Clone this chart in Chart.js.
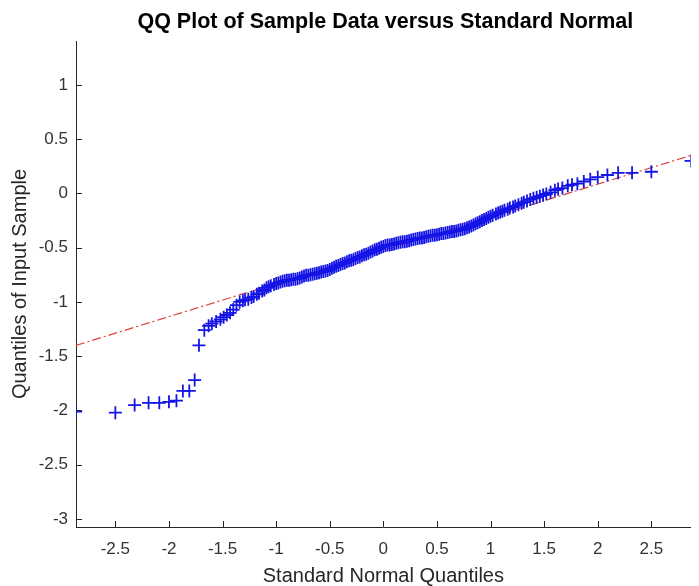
<!DOCTYPE html>
<html><head><meta charset="utf-8">
<script src="https://cdn.jsdelivr.net/npm/chart.js@4.4.1/dist/chart.umd.min.js"></script>
<style>html,body{margin:0;padding:0;background:#fff}#wrap{width:699px;height:586px;position:relative}</style>
</head><body><div id="wrap"><canvas id="c"></canvas></div>
<script>
// Theoretical standard-normal quantiles (x) and sorted sample values (y)
const sampleX = [
-2.87,-2.50,-2.32,-2.19,-2.09,-2.00,-1.93,-1.87,-1.81,-1.76,
-1.72,-1.67,-1.63,-1.60,-1.56,-1.52,-1.49,-1.46,-1.43,-1.40,
-1.37,-1.34,-1.31,-1.29,-1.26,-1.23,-1.21,-1.18,-1.16,-1.13,
-1.11,-1.09,-1.07,-1.05,-1.02,-1.00,
-0.98,-0.96,-0.94,-0.92,-0.90,-0.88,-0.86,-0.84,-0.82,-0.80,
-0.78,-0.76,-0.74,-0.72,-0.70,-0.68,-0.66,-0.64,-0.62,-0.60,
-0.58,-0.56,-0.54,-0.52,-0.50,-0.48,-0.46,-0.44,-0.42,-0.40,
-0.38,-0.36,-0.34,-0.32,-0.30,-0.28,-0.26,-0.24,-0.22,-0.20,
-0.18,-0.16,-0.14,-0.12,-0.10,-0.08,-0.06,-0.04,-0.02,0.00,
0.02,0.04,0.06,0.08,0.10,0.12,0.14,0.16,0.18,0.20,
0.22,0.24,0.26,0.28,0.30,0.32,0.34,0.36,0.38,0.40,
0.42,0.44,0.46,0.48,0.50,0.52,0.54,0.56,0.58,0.60,
0.62,0.64,0.66,0.68,0.70,0.72,0.74,0.76,0.78,0.80,
0.82,0.84,0.86,0.88,0.90,0.92,0.94,0.96,0.98,
1.00,1.02,1.05,1.07,1.09,1.11,1.13,1.16,1.18,1.21,
1.23,1.26,1.29,1.31,1.34,1.37,1.40,1.43,1.46,1.49,
1.52,1.56,1.60,1.63,1.67,1.72,1.76,1.81,1.87,1.93,
2.00,2.09,2.19,2.32,2.50,2.87];
const sampleY = [
-2.01,-2.02,-1.95,-1.93,-1.93,-1.92,-1.91,-1.82,-1.82,-1.72,
-1.40,-1.26,-1.22,-1.20,-1.18,-1.16,-1.14,-1.12,-1.10,-1.07,
-1.03,-1.00,-0.99,-0.98,-0.975,-0.96,-0.95,-0.93,-0.92,-0.90,
-0.89,-0.87,-0.86,-0.85,-0.84,-0.83,
-0.825,-0.815,-0.81,-0.805,-0.80,-0.80,-0.795,-0.79,-0.79,-0.785,
-0.78,-0.77,-0.76,-0.755,-0.755,-0.75,-0.745,-0.74,-0.735,-0.73,
-0.725,-0.72,-0.715,-0.71,-0.70,-0.69,-0.68,-0.67,-0.665,-0.655,
-0.645,-0.64,-0.63,-0.62,-0.615,-0.61,-0.60,-0.59,-0.585,-0.575,
-0.565,-0.56,-0.55,-0.54,-0.53,-0.52,-0.515,-0.505,-0.495,-0.49,
-0.48,-0.475,-0.475,-0.47,-0.465,-0.46,-0.455,-0.45,-0.445,-0.445,
-0.44,-0.435,-0.43,-0.425,-0.42,-0.415,-0.41,-0.41,-0.405,-0.40,
-0.395,-0.39,-0.385,-0.385,-0.38,-0.375,-0.37,-0.37,-0.365,-0.36,
-0.355,-0.35,-0.35,-0.345,-0.34,-0.335,-0.33,-0.325,-0.315,-0.31,
-0.30,-0.29,-0.28,-0.27,-0.26,-0.25,-0.24,-0.23,-0.22,
-0.21,-0.20,-0.19,-0.18,-0.17,-0.165,-0.155,-0.145,-0.135,-0.125,
-0.115,-0.105,-0.09,-0.08,-0.07,-0.055,-0.045,-0.035,-0.025,-0.015,
-0.005,0.01,0.03,0.04,0.05,0.07,0.08,0.09,0.11,0.13,
0.15,0.17,0.19,0.19,0.20,0.30];
// Reference (fit) line end points
const fitX = [-2.867, 2.867];
const fitY = [-1.40, 0.35];
// Axes
const xTicks = [-2.5,-2,-1.5,-1,-0.5,0,0.5,1,1.5,2,2.5];
const yTicks = [-3,-2.5,-2,-1.5,-1,-0.5,0,0.5,1];
const xRange = [-2.867, 2.867];
const yRange = [-3.074, 1.405];
const titleText = 'QQ Plot of Sample Data versus Standard Normal';
const xLabel = 'Standard Normal Quantiles';
const yLabel = 'Quantiles of Input Sample';

const FONT = "'Liberation Sans', Arial, sans-serif";
const AXIS = '#262626';

const inwardTicks = {
  id: 'inwardTicks',
  afterDatasetsDraw(chart) {
    const {ctx, chartArea: {left, bottom}, scales: {x, y}} = chart;
    ctx.save();
    ctx.strokeStyle = AXIS; ctx.lineWidth = 1;
    ctx.beginPath();
    x.ticks.forEach(t => { const px = Math.round(x.getPixelForValue(t.value)) + 0.5; ctx.moveTo(px, bottom); ctx.lineTo(px, bottom - 6); });
    y.ticks.forEach(t => { const py = Math.round(y.getPixelForValue(t.value)) + 0.5; ctx.moveTo(left, py); ctx.lineTo(left + 6, py); });
    ctx.stroke();
    ctx.restore();
  }
};
const axesTitle = {
  id: 'axesTitle',
  afterDraw(chart) {
    const {ctx, chartArea: {left, right}} = chart;
    ctx.save();
    ctx.font = "bold 21.5px " + FONT;
    ctx.fillStyle = '#000';
    ctx.textAlign = 'center'; ctx.textBaseline = 'middle';
    ctx.fillText(titleText, (left + right) / 2 + 2, 22);
    ctx.restore();
  }
};

new Chart(document.getElementById('c'), {
  type: 'scatter',
  data: {
    datasets: [
      {
        label: 'sample',
        data: sampleX.map((v, i) => ({x: v, y: sampleY[i]})),
        pointStyle: 'cross', pointRadius: 6.5, pointHoverRadius: 6.5,
        borderColor: '#1414e6', backgroundColor: '#1414e6', pointBorderWidth: 1.8,
        showLine: false, order: 0
      },
      {
        type: 'line', label: 'fit',
        data: fitX.map((v, i) => ({x: v, y: fitY[i]})),
        borderColor: '#e0403a', borderWidth: 1.2, borderDash: [9, 3, 2, 3],
        pointRadius: 0, fill: false, order: 1
      }
    ]
  },
  options: {
    responsive: true, maintainAspectRatio: false, animation: false,
    layout: {padding: {top: 41, right: 3, left: 0, bottom: 0}},
    plugins: {legend: {display: false}, tooltip: {enabled: false}, title: {display: false}},
    scales: {
      x: {
        type: 'linear', min: xRange[0], max: xRange[1],
        afterBuildTicks: s => { s.ticks = xTicks.map(v => ({value: v})); },
        afterFit: s => { s.height = 59; },
        ticks: {includeBounds: false, padding: 12, color: '#333', font: {family: FONT, size: 17}, callback: v => String(v), maxRotation: 0, autoSkip: false},
        grid: {display: false, drawTicks: false},
        border: {display: true, color: AXIS, width: 1},
        title: {display: true, text: xLabel, color: '#262626', font: {family: FONT, size: 20, lineHeight: 1}, padding: {top: 0, bottom: 0}}
      },
      y: {
        type: 'linear', min: yRange[0], max: yRange[1],
        afterBuildTicks: s => { s.ticks = yTicks.map(v => ({value: v})); },
        afterFit: s => { s.width = 76; },
        ticks: {includeBounds: false, padding: 8, color: '#333', font: {family: FONT, size: 17}, callback: v => String(v), autoSkip: false},
        grid: {display: false, drawTicks: false},
        border: {display: true, color: AXIS, width: 1},
        title: {display: true, text: yLabel, color: '#262626', font: {family: FONT, size: 20, lineHeight: 1}, padding: {top: 10, bottom: 0}}
      }
    }
  },
  plugins: [inwardTicks, axesTitle]
});
</script>
</body></html>
